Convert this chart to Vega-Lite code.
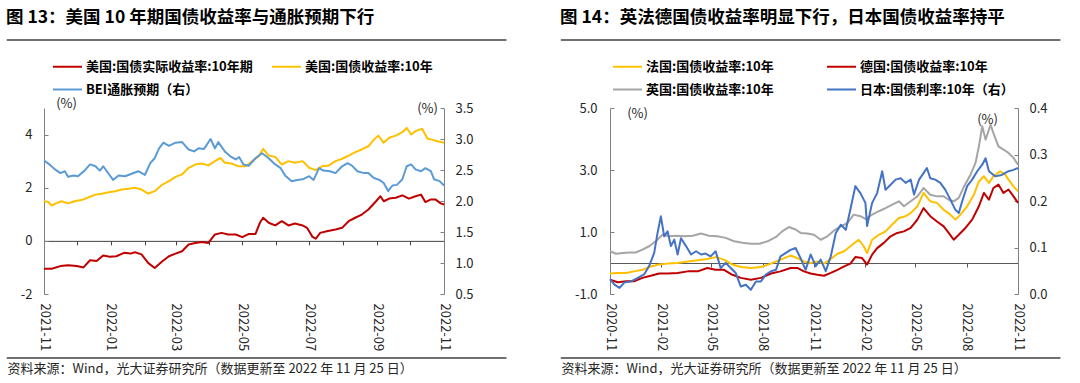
{
"$schema": "https://vega.github.io/schema/vega-lite/v6.json",
"padding": {"left": 5, "top": 8, "right": 5, "bottom": 0},
"background": "white",
"spacing": 52,
"config": {
  "font": "Noto Sans CJK SC",
  "view": {"stroke": null},
  "axis": {"labelFont": "Noto Sans CJK SC", "labelFontSize": 13, "labelColor": "#262626", "titleFont": "Noto Sans CJK SC", "titleFontSize": 13, "titleFontWeight": "normal", "titleColor": "#262626", "grid": false, "domainColor": "#7F7F7F", "tickColor": "#7F7F7F", "labelOverlap": false},
  "legend": {"labelFont": "Noto Sans CJK SC", "labelFontSize": 13, "labelFontWeight": "bold", "labelColor": "#000000", "symbolType": "stroke", "symbolSize": 841, "symbolStrokeWidth": 2.5, "labelOffset": 3, "rowPadding": -3, "labelLimit": 400},
  "title": {"font": "Noto Sans CJK SC", "color": "#000000"},
  "line": {"strokeWidth": 2, "strokeJoin": "round"}
},
"datasets": {
  "usReal": [
    {"d":"2021-11-25","v":-1.05},{"d":"2021-12-02","v":-1.05},{"d":"2021-12-10","v":-0.95},{"d":"2021-12-17","v":-0.92},{"d":"2021-12-25","v":-0.95},{"d":"2021-12-31","v":-1.0},{"d":"2022-01-06","v":-0.73},{"d":"2022-01-12","v":-0.76},{"d":"2022-01-18","v":-0.55},{"d":"2022-01-24","v":-0.6},{"d":"2022-01-30","v":-0.58},{"d":"2022-02-06","v":-0.45},{"d":"2022-02-12","v":-0.48},{"d":"2022-02-16","v":-0.43},{"d":"2022-02-22","v":-0.51},{"d":"2022-02-28","v":-0.83},{"d":"2022-03-06","v":-1.02},{"d":"2022-03-13","v":-0.77},{"d":"2022-03-19","v":-0.58},{"d":"2022-03-25","v":-0.48},{"d":"2022-03-31","v":-0.39},{"d":"2022-04-06","v":-0.14},{"d":"2022-04-12","v":-0.08},{"d":"2022-04-18","v":-0.04},{"d":"2022-04-24","v":-0.08},{"d":"2022-04-30","v":0.24},{"d":"2022-05-06","v":0.30},{"d":"2022-05-12","v":0.24},{"d":"2022-05-19","v":0.24},{"d":"2022-05-25","v":0.14},{"d":"2022-05-31","v":0.26},{"d":"2022-06-06","v":0.26},{"d":"2022-06-10","v":0.68},{"d":"2022-06-13","v":0.87},{"d":"2022-06-18","v":0.68},{"d":"2022-06-24","v":0.58},{"d":"2022-06-30","v":0.74},{"d":"2022-07-06","v":0.58},{"d":"2022-07-12","v":0.65},{"d":"2022-07-19","v":0.58},{"d":"2022-07-23","v":0.49},{"d":"2022-07-28","v":0.15},{"d":"2022-07-31","v":0.08},{"d":"2022-08-04","v":0.30},{"d":"2022-08-10","v":0.36},{"d":"2022-08-18","v":0.43},{"d":"2022-08-24","v":0.49},{"d":"2022-08-30","v":0.74},{"d":"2022-09-05","v":0.87},{"d":"2022-09-11","v":0.99},{"d":"2022-09-17","v":1.18},{"d":"2022-09-24","v":1.49},{"d":"2022-09-28","v":1.68},{"d":"2022-10-01","v":1.49},{"d":"2022-10-06","v":1.59},{"d":"2022-10-12","v":1.62},{"d":"2022-10-18","v":1.71},{"d":"2022-10-24","v":1.59},{"d":"2022-10-30","v":1.68},{"d":"2022-11-04","v":1.74},{"d":"2022-11-08","v":1.46},{"d":"2022-11-13","v":1.56},{"d":"2022-11-17","v":1.56},{"d":"2022-11-22","v":1.41},{"d":"2022-11-25","v":1.37}
  ],
  "usNom": [
    {"d":"2021-11-25","v":1.49},{"d":"2021-11-29","v":1.46},{"d":"2021-12-02","v":1.33},{"d":"2021-12-07","v":1.43},{"d":"2021-12-11","v":1.49},{"d":"2021-12-17","v":1.41},{"d":"2021-12-23","v":1.49},{"d":"2021-12-31","v":1.56},{"d":"2022-01-06","v":1.66},{"d":"2022-01-11","v":1.74},{"d":"2022-01-17","v":1.77},{"d":"2022-01-23","v":1.83},{"d":"2022-01-29","v":1.87},{"d":"2022-02-04","v":1.93},{"d":"2022-02-10","v":1.96},{"d":"2022-02-16","v":2.0},{"d":"2022-02-22","v":1.93},{"d":"2022-02-28","v":1.78},{"d":"2022-03-06","v":1.87},{"d":"2022-03-13","v":2.12},{"d":"2022-03-19","v":2.25},{"d":"2022-03-25","v":2.41},{"d":"2022-03-31","v":2.5},{"d":"2022-04-06","v":2.75},{"d":"2022-04-12","v":2.87},{"d":"2022-04-18","v":2.91},{"d":"2022-04-24","v":2.84},{"d":"2022-04-30","v":3.0},{"d":"2022-05-05","v":3.12},{"d":"2022-05-09","v":2.94},{"d":"2022-05-15","v":2.91},{"d":"2022-05-21","v":2.81},{"d":"2022-05-28","v":2.81},{"d":"2022-06-03","v":3.0},{"d":"2022-06-09","v":3.19},{"d":"2022-06-13","v":3.46},{"d":"2022-06-18","v":3.21},{"d":"2022-06-24","v":3.16},{"d":"2022-06-30","v":2.87},{"d":"2022-07-06","v":3.0},{"d":"2022-07-12","v":2.94},{"d":"2022-07-19","v":3.0},{"d":"2022-07-25","v":2.75},{"d":"2022-07-31","v":2.66},{"d":"2022-08-06","v":2.81},{"d":"2022-08-12","v":2.84},{"d":"2022-08-18","v":3.0},{"d":"2022-08-24","v":3.09},{"d":"2022-08-30","v":3.21},{"d":"2022-09-05","v":3.34},{"d":"2022-09-11","v":3.44},{"d":"2022-09-17","v":3.56},{"d":"2022-09-22","v":3.81},{"d":"2022-09-26","v":3.96},{"d":"2022-10-01","v":3.69},{"d":"2022-10-06","v":3.88},{"d":"2022-10-12","v":3.96},{"d":"2022-10-18","v":4.09},{"d":"2022-10-22","v":4.25},{"d":"2022-10-26","v":4.0},{"d":"2022-10-30","v":4.13},{"d":"2022-11-05","v":4.22},{"d":"2022-11-10","v":3.84},{"d":"2022-11-14","v":3.81},{"d":"2022-11-19","v":3.75},{"d":"2022-11-25","v":3.69}
  ],
  "usBei": [
    {"d":"2021-11-25","v":2.65},{"d":"2021-11-30","v":2.59},{"d":"2021-12-05","v":2.51},{"d":"2021-12-10","v":2.45},{"d":"2021-12-14","v":2.48},{"d":"2021-12-17","v":2.39},{"d":"2021-12-22","v":2.41},{"d":"2021-12-26","v":2.40},{"d":"2022-01-01","v":2.49},{"d":"2022-01-06","v":2.59},{"d":"2022-01-11","v":2.56},{"d":"2022-01-15","v":2.49},{"d":"2022-01-18","v":2.56},{"d":"2022-01-23","v":2.44},{"d":"2022-01-27","v":2.34},{"d":"2022-02-01","v":2.41},{"d":"2022-02-07","v":2.40},{"d":"2022-02-13","v":2.44},{"d":"2022-02-19","v":2.48},{"d":"2022-02-25","v":2.42},{"d":"2022-03-02","v":2.61},{"d":"2022-03-06","v":2.69},{"d":"2022-03-10","v":2.85},{"d":"2022-03-14","v":2.94},{"d":"2022-03-19","v":2.89},{"d":"2022-03-25","v":2.94},{"d":"2022-03-31","v":2.95},{"d":"2022-04-06","v":2.83},{"d":"2022-04-11","v":2.80},{"d":"2022-04-15","v":2.85},{"d":"2022-04-20","v":2.84},{"d":"2022-04-26","v":3.0},{"d":"2022-04-30","v":2.85},{"d":"2022-05-03","v":2.95},{"d":"2022-05-09","v":2.80},{"d":"2022-05-14","v":2.72},{"d":"2022-05-19","v":2.67},{"d":"2022-05-22","v":2.71},{"d":"2022-05-26","v":2.59},{"d":"2022-05-31","v":2.57},{"d":"2022-06-06","v":2.69},{"d":"2022-06-12","v":2.77},{"d":"2022-06-18","v":2.69},{"d":"2022-06-24","v":2.59},{"d":"2022-06-29","v":2.53},{"d":"2022-07-03","v":2.41},{"d":"2022-07-09","v":2.32},{"d":"2022-07-14","v":2.34},{"d":"2022-07-19","v":2.35},{"d":"2022-07-25","v":2.40},{"d":"2022-07-29","v":2.34},{"d":"2022-08-03","v":2.53},{"d":"2022-08-07","v":2.49},{"d":"2022-08-13","v":2.48},{"d":"2022-08-18","v":2.45},{"d":"2022-08-24","v":2.56},{"d":"2022-08-29","v":2.61},{"d":"2022-09-02","v":2.57},{"d":"2022-09-07","v":2.48},{"d":"2022-09-13","v":2.45},{"d":"2022-09-17","v":2.45},{"d":"2022-09-22","v":2.37},{"d":"2022-09-27","v":2.34},{"d":"2022-10-01","v":2.29},{"d":"2022-10-05","v":2.16},{"d":"2022-10-09","v":2.25},{"d":"2022-10-13","v":2.26},{"d":"2022-10-18","v":2.35},{"d":"2022-10-22","v":2.56},{"d":"2022-10-26","v":2.59},{"d":"2022-10-30","v":2.51},{"d":"2022-11-04","v":2.48},{"d":"2022-11-08","v":2.53},{"d":"2022-11-13","v":2.48},{"d":"2022-11-16","v":2.35},{"d":"2022-11-21","v":2.32},{"d":"2022-11-25","v":2.25}
  ],
  "fr": [
    {"d":"2020-11-25","v":-0.34},{"d":"2020-12-09","v":-0.32},{"d":"2020-12-24","v":-0.32},{"d":"2021-01-07","v":-0.27},{"d":"2021-01-22","v":-0.22},{"d":"2021-02-06","v":-0.11},{"d":"2021-02-21","v":-0.05},{"d":"2021-03-08","v":-0.02},{"d":"2021-03-26","v":0.0},{"d":"2021-04-13","v":0.05},{"d":"2021-05-01","v":0.09},{"d":"2021-05-18","v":0.13},{"d":"2021-06-02","v":0.19},{"d":"2021-06-17","v":0.11},{"d":"2021-07-02","v":-0.05},{"d":"2021-07-17","v":-0.13},{"d":"2021-08-04","v":-0.16},{"d":"2021-08-22","v":-0.13},{"d":"2021-09-09","v":-0.02},{"d":"2021-09-26","v":0.11},{"d":"2021-10-14","v":0.24},{"d":"2021-10-26","v":0.16},{"d":"2021-11-07","v":0.05},{"d":"2021-11-19","v":0.0},{"d":"2021-12-01","v":0.05},{"d":"2021-12-13","v":-0.02},{"d":"2021-12-25","v":0.13},{"d":"2022-01-06","v":0.30},{"d":"2022-01-18","v":0.38},{"d":"2022-01-29","v":0.54},{"d":"2022-02-13","v":0.75},{"d":"2022-02-22","v":0.54},{"d":"2022-02-28","v":0.32},{"d":"2022-03-09","v":0.75},{"d":"2022-03-21","v":0.91},{"d":"2022-04-02","v":1.02},{"d":"2022-04-14","v":1.24},{"d":"2022-04-26","v":1.45},{"d":"2022-05-08","v":1.51},{"d":"2022-05-17","v":1.61},{"d":"2022-05-29","v":1.83},{"d":"2022-06-09","v":2.26},{"d":"2022-06-21","v":1.99},{"d":"2022-07-03","v":1.94},{"d":"2022-07-15","v":1.72},{"d":"2022-07-27","v":1.56},{"d":"2022-08-05","v":1.40},{"d":"2022-08-14","v":1.56},{"d":"2022-08-26","v":1.83},{"d":"2022-09-07","v":2.20},{"d":"2022-09-16","v":2.63},{"d":"2022-09-25","v":2.80},{"d":"2022-10-04","v":2.58},{"d":"2022-10-12","v":2.80},{"d":"2022-10-24","v":2.96},{"d":"2022-11-02","v":2.85},{"d":"2022-11-08","v":2.69},{"d":"2022-11-17","v":2.47},{"d":"2022-11-25","v":2.31}
  ],
  "de": [
    {"d":"2020-11-25","v":-0.54},{"d":"2020-12-09","v":-0.62},{"d":"2020-12-24","v":-0.59},{"d":"2021-01-07","v":-0.59},{"d":"2021-01-22","v":-0.48},{"d":"2021-02-06","v":-0.41},{"d":"2021-02-21","v":-0.34},{"d":"2021-03-08","v":-0.34},{"d":"2021-03-26","v":-0.32},{"d":"2021-04-13","v":-0.27},{"d":"2021-05-01","v":-0.27},{"d":"2021-05-18","v":-0.16},{"d":"2021-06-02","v":-0.22},{"d":"2021-06-17","v":-0.22},{"d":"2021-07-02","v":-0.38},{"d":"2021-07-17","v":-0.48},{"d":"2021-08-04","v":-0.54},{"d":"2021-08-22","v":-0.48},{"d":"2021-09-09","v":-0.34},{"d":"2021-09-26","v":-0.27},{"d":"2021-10-14","v":-0.16},{"d":"2021-10-26","v":-0.16},{"d":"2021-11-07","v":-0.27},{"d":"2021-11-19","v":-0.34},{"d":"2021-12-01","v":-0.38},{"d":"2021-12-13","v":-0.41},{"d":"2021-12-25","v":-0.32},{"d":"2022-01-06","v":-0.22},{"d":"2022-01-18","v":-0.11},{"d":"2022-01-29","v":-0.02},{"d":"2022-02-07","v":0.19},{"d":"2022-02-19","v":0.16},{"d":"2022-02-28","v":-0.05},{"d":"2022-03-09","v":0.27},{"d":"2022-03-18","v":0.48},{"d":"2022-03-30","v":0.65},{"d":"2022-04-11","v":0.86},{"d":"2022-04-23","v":0.97},{"d":"2022-05-05","v":1.02},{"d":"2022-05-17","v":1.13},{"d":"2022-05-29","v":1.40},{"d":"2022-06-09","v":1.77},{"d":"2022-06-21","v":1.51},{"d":"2022-07-03","v":1.34},{"d":"2022-07-15","v":1.18},{"d":"2022-07-24","v":0.97},{"d":"2022-08-02","v":0.75},{"d":"2022-08-11","v":0.91},{"d":"2022-08-23","v":1.13},{"d":"2022-09-04","v":1.40},{"d":"2022-09-16","v":1.83},{"d":"2022-09-25","v":2.26},{"d":"2022-10-04","v":2.04},{"d":"2022-10-12","v":2.42},{"d":"2022-10-21","v":2.53},{"d":"2022-10-30","v":2.26},{"d":"2022-11-08","v":2.37},{"d":"2022-11-17","v":2.15},{"d":"2022-11-25","v":1.94}
  ],
  "uk": [
    {"d":"2020-11-25","v":0.38},{"d":"2020-12-06","v":0.30},{"d":"2020-12-18","v":0.32},{"d":"2020-12-30","v":0.34},{"d":"2021-01-10","v":0.34},{"d":"2021-01-22","v":0.43},{"d":"2021-02-03","v":0.54},{"d":"2021-02-15","v":0.70},{"d":"2021-02-27","v":0.91},{"d":"2021-03-11","v":0.86},{"d":"2021-03-23","v":0.88},{"d":"2021-04-07","v":0.86},{"d":"2021-04-22","v":0.88},{"d":"2021-05-07","v":0.95},{"d":"2021-05-21","v":0.88},{"d":"2021-06-05","v":0.86},{"d":"2021-06-20","v":0.81},{"d":"2021-07-05","v":0.70},{"d":"2021-07-20","v":0.65},{"d":"2021-08-04","v":0.62},{"d":"2021-08-19","v":0.62},{"d":"2021-09-03","v":0.70},{"d":"2021-09-18","v":0.84},{"d":"2021-09-29","v":1.02},{"d":"2021-10-11","v":1.16},{"d":"2021-10-23","v":1.08},{"d":"2021-11-01","v":0.97},{"d":"2021-11-13","v":0.95},{"d":"2021-11-25","v":0.91},{"d":"2021-12-07","v":0.75},{"d":"2021-12-19","v":0.86},{"d":"2021-12-31","v":1.05},{"d":"2022-01-12","v":1.18},{"d":"2022-01-24","v":1.29},{"d":"2022-02-04","v":1.56},{"d":"2022-02-16","v":1.51},{"d":"2022-02-25","v":1.42},{"d":"2022-03-09","v":1.56},{"d":"2022-03-21","v":1.67},{"d":"2022-04-02","v":1.77},{"d":"2022-04-14","v":1.88},{"d":"2022-04-26","v":1.99},{"d":"2022-05-05","v":1.83},{"d":"2022-05-17","v":1.99},{"d":"2022-05-29","v":2.15},{"d":"2022-06-09","v":2.42},{"d":"2022-06-21","v":2.20},{"d":"2022-07-03","v":2.15},{"d":"2022-07-15","v":2.15},{"d":"2022-07-24","v":2.04},{"d":"2022-08-02","v":1.99},{"d":"2022-08-11","v":2.10},{"d":"2022-08-20","v":2.45},{"d":"2022-09-01","v":2.85},{"d":"2022-09-10","v":3.23},{"d":"2022-09-16","v":3.76},{"d":"2022-09-22","v":4.41},{"d":"2022-09-28","v":3.98},{"d":"2022-10-07","v":4.46},{"d":"2022-10-12","v":4.19},{"d":"2022-10-21","v":3.76},{"d":"2022-10-30","v":3.66},{"d":"2022-11-08","v":3.55},{"d":"2022-11-17","v":3.39},{"d":"2022-11-25","v":3.17}
  ],
  "jp": [
    {"d":"2020-11-25","v":0.032},{"d":"2020-12-03","v":0.020},{"d":"2020-12-12","v":0.013},{"d":"2020-12-21","v":0.025},{"d":"2021-01-02","v":0.027},{"d":"2021-01-13","v":0.034},{"d":"2021-01-25","v":0.042},{"d":"2021-02-03","v":0.060},{"d":"2021-02-12","v":0.088},{"d":"2021-02-18","v":0.131},{"d":"2021-02-24","v":0.167},{"d":"2021-03-02","v":0.124},{"d":"2021-03-08","v":0.135},{"d":"2021-03-14","v":0.103},{"d":"2021-03-20","v":0.117},{"d":"2021-03-26","v":0.085},{"d":"2021-04-01","v":0.120},{"d":"2021-04-10","v":0.103},{"d":"2021-04-19","v":0.085},{"d":"2021-04-28","v":0.092},{"d":"2021-05-07","v":0.085},{"d":"2021-05-15","v":0.087},{"d":"2021-05-24","v":0.081},{"d":"2021-06-02","v":0.092},{"d":"2021-06-11","v":0.056},{"d":"2021-06-20","v":0.067},{"d":"2021-06-29","v":0.056},{"d":"2021-07-08","v":0.045},{"d":"2021-07-17","v":0.016},{"d":"2021-07-26","v":0.020},{"d":"2021-08-04","v":0.009},{"d":"2021-08-13","v":0.027},{"d":"2021-08-22","v":0.027},{"d":"2021-08-31","v":0.042},{"d":"2021-09-09","v":0.049},{"d":"2021-09-18","v":0.052},{"d":"2021-09-26","v":0.081},{"d":"2021-10-05","v":0.088},{"d":"2021-10-14","v":0.095},{"d":"2021-10-23","v":0.099},{"d":"2021-11-01","v":0.077},{"d":"2021-11-10","v":0.052},{"d":"2021-11-19","v":0.085},{"d":"2021-11-28","v":0.060},{"d":"2021-12-07","v":0.074},{"d":"2021-12-16","v":0.049},{"d":"2021-12-25","v":0.081},{"d":"2022-01-03","v":0.131},{"d":"2022-01-12","v":0.149},{"d":"2022-01-21","v":0.138},{"d":"2022-01-29","v":0.181},{"d":"2022-02-07","v":0.232},{"d":"2022-02-16","v":0.217},{"d":"2022-02-25","v":0.196},{"d":"2022-02-28","v":0.146},{"d":"2022-03-09","v":0.196},{"d":"2022-03-18","v":0.217},{"d":"2022-03-27","v":0.264},{"d":"2022-04-02","v":0.224},{"d":"2022-04-11","v":0.235},{"d":"2022-04-20","v":0.246},{"d":"2022-04-29","v":0.249},{"d":"2022-05-08","v":0.239},{"d":"2022-05-17","v":0.246},{"d":"2022-05-23","v":0.214},{"d":"2022-06-01","v":0.246},{"d":"2022-06-09","v":0.260},{"d":"2022-06-15","v":0.271},{"d":"2022-06-21","v":0.249},{"d":"2022-06-30","v":0.246},{"d":"2022-07-09","v":0.239},{"d":"2022-07-18","v":0.224},{"d":"2022-07-27","v":0.203},{"d":"2022-08-05","v":0.181},{"d":"2022-08-11","v":0.174},{"d":"2022-08-17","v":0.199},{"d":"2022-08-26","v":0.232},{"d":"2022-09-04","v":0.246},{"d":"2022-09-13","v":0.264},{"d":"2022-09-22","v":0.278},{"d":"2022-09-28","v":0.292},{"d":"2022-10-04","v":0.264},{"d":"2022-10-15","v":0.253},{"d":"2022-10-27","v":0.256},{"d":"2022-11-08","v":0.264},{"d":"2022-11-17","v":0.267},{"d":"2022-11-25","v":0.271}
  ]
},
"resolve": {"scale": {"color": "independent"}, "legend": {"color": "independent"}},
"hconcat": [
  {
    "width": 400, "height": 186,
    "title": {"text": "图 13：美国 10 年期国债收益率与通胀预期下行", "anchor": "start", "frame": "bounds", "fontSize": 17.5, "fontWeight": "bold", "offset": 13},
    "layer": [
      {
        "layer": [
          {"data": {"name": "usReal"}, "mark": {"type": "line"},
           "encoding": {
             "x": {"field": "d", "type": "temporal", "scale": {"type": "utc", "domain": [{"year": 2021, "month": 11, "date": 25, "utc": true}, {"year": 2022, "month": 11, "date": 25, "utc": true}]},
                   "axis": {"orient": "bottom", "domain": false, "ticks": false, "labelAngle": 90, "labelPadding": 9, "labelOverlap": false, "labelExpr": "utcFormat(datum.value, '%Y-%m')",
                            "title": "资料来源：Wind，光大证券研究所（数据更新至 2022 年 11 月 25 日）", "titleX": -37, "titleY": 74, "titleAlign": "left", "titleAnchor": "start", "titleBaseline": "middle", "titleAngle": 0,
                            "values": [{"year":2021,"month":11,"date":25,"utc":true},{"year":2021,"month":12,"date":25,"utc":true},{"year":2022,"month":1,"date":25,"utc":true},{"year":2022,"month":2,"date":25,"utc":true},{"year":2022,"month":3,"date":25,"utc":true},{"year":2022,"month":4,"date":25,"utc":true},{"year":2022,"month":5,"date":25,"utc":true},{"year":2022,"month":6,"date":25,"utc":true},{"year":2022,"month":7,"date":25,"utc":true},{"year":2022,"month":8,"date":25,"utc":true},{"year":2022,"month":9,"date":25,"utc":true},{"year":2022,"month":10,"date":25,"utc":true},{"year":2022,"month":11,"date":25,"utc":true}]}},
             "y": {"field": "v", "type": "quantitative", "scale": {"domain": [-2, 5], "nice": false, "zero": false},
                   "axis": {"orient": "left", "values": [-2, -1, 0, 1, 2, 3, 4, 5], "tickSize": -4, "labelPadding": 16, "labelOverlap": false, "labelExpr": "replace(format(datum.value, 'd'), '−', '-')",
                            "title": "(%)", "titleAngle": 0, "titleX": 22, "titleY": -5, "titleAlign": "center", "titleBaseline": "middle"}},
             "color": {"datum": "美国:国债实际收益率:10年期",
                       "scale": {"domain": ["美国:国债实际收益率:10年期", "BEI通胀预期（右）", "美国:国债收益率:10年"], "range": ["#C00000", "#5B9BD5", "#FFC000"]},
                       "legend": {"orient": "none", "legendX": 8, "legendY": -57, "columns": 2, "columnPadding": 18, "title": null}}
           }},
          {"data": {"name": "usNom"}, "mark": {"type": "line"},
           "encoding": {
             "x": {"field": "d", "type": "temporal"},
             "y": {"field": "v", "type": "quantitative"},
             "color": {"datum": "美国:国债收益率:10年"}
           }},
          {"data": {"values": [{}]}, "mark": {"type": "rule", "clip": false, "color": "#404040", "strokeWidth": 1.5},
           "encoding": {
             "x": {"datum": {"year": 2021, "month": 10, "date": 22, "utc": true}, "type": "temporal"},
             "x2": {"datum": {"year": 2023, "month": 1, "date": 21, "utc": true}},
             "y": {"datum": 7.56, "type": "quantitative"}
           }},
          {"data": {"values": [{}]}, "mark": {"type": "rule", "clip": false, "color": "#404040", "strokeWidth": 1.5},
           "encoding": {
             "x": {"datum": {"year": 2021, "month": 10, "date": 22, "utc": true}, "type": "temporal"},
             "x2": {"datum": {"year": 2023, "month": 1, "date": 21, "utc": true}},
             "y": {"datum": -4.41, "type": "quantitative"}
           }}
        ]
      },
      {"data": {"name": "usBei"}, "mark": {"type": "line"},
       "encoding": {
         "x": {"field": "d", "type": "temporal",
               "axis": {"orient": "bottom", "offset": -53.14, "title": null, "labels": false, "domain": true, "domainColor": "#404040", "ticks": true, "tickColor": "#404040", "tickSize": 4,
                        "values": [{"year":2021,"month":11,"date":25,"utc":true},{"year":2021,"month":12,"date":25,"utc":true},{"year":2022,"month":1,"date":25,"utc":true},{"year":2022,"month":2,"date":25,"utc":true},{"year":2022,"month":3,"date":25,"utc":true},{"year":2022,"month":4,"date":25,"utc":true},{"year":2022,"month":5,"date":25,"utc":true},{"year":2022,"month":6,"date":25,"utc":true},{"year":2022,"month":7,"date":25,"utc":true},{"year":2022,"month":8,"date":25,"utc":true},{"year":2022,"month":9,"date":25,"utc":true},{"year":2022,"month":10,"date":25,"utc":true},{"year":2022,"month":11,"date":25,"utc":true}]}},
         "y": {"field": "v", "type": "quantitative", "scale": {"domain": [0.5, 3.5], "nice": false, "zero": false},
               "axis": {"orient": "right", "values": [0.5, 1.0, 1.5, 2.0, 2.5, 3.0, 3.5], "format": ".1f", "tickSize": -4, "labelPadding": 15, "labelOverlap": false,
                        "title": "(%)", "titleAngle": 0, "titleX": -17, "titleY": 0, "titleAlign": "center", "titleBaseline": "middle"}},
         "color": {"datum": "BEI通胀预期（右）"}
       }}
    ],
    "resolve": {"scale": {"y": "independent"}, "axis": {"x": "independent"}}
  },
  {
    "width": 408, "height": 186,
    "title": {"text": "图 14：英法德国债收益率明显下行，日本国债收益率持平", "anchor": "start", "frame": "bounds", "fontSize": 17.5, "fontWeight": "bold", "offset": 13},
    "layer": [
      {
        "layer": [
          {"data": {"name": "fr"}, "mark": {"type": "line"},
           "encoding": {
             "x": {"field": "d", "type": "temporal", "scale": {"type": "utc", "domain": [{"year": 2020, "month": 11, "date": 25, "utc": true}, {"year": 2022, "month": 11, "date": 25, "utc": true}]},
                   "axis": {"orient": "bottom", "domain": false, "ticks": false, "labelAngle": 90, "labelPadding": 9, "labelOverlap": false, "labelExpr": "utcFormat(datum.value, '%Y-%m')",
                            "title": "资料来源：Wind，光大证券研究所（数据更新至 2022 年 11 月 25 日）", "titleX": -49, "titleY": 74, "titleAlign": "left", "titleAnchor": "start", "titleBaseline": "middle", "titleAngle": 0,
                            "values": [{"year":2020,"month":11,"date":25,"utc":true},{"year":2021,"month":2,"date":25,"utc":true},{"year":2021,"month":5,"date":25,"utc":true},{"year":2021,"month":8,"date":25,"utc":true},{"year":2021,"month":11,"date":25,"utc":true},{"year":2022,"month":2,"date":25,"utc":true},{"year":2022,"month":5,"date":25,"utc":true},{"year":2022,"month":8,"date":25,"utc":true},{"year":2022,"month":11,"date":25,"utc":true}]}},
             "y": {"field": "v", "type": "quantitative", "scale": {"domain": [-1, 5], "nice": false, "zero": false},
                   "axis": {"orient": "left", "values": [-1, 0, 1, 2, 3, 4, 5], "tickSize": -4, "labelPadding": 17, "labelOverlap": false, "labelExpr": "replace(format(datum.value, '.1f'), '−', '-')",
                            "title": "(%)", "titleAngle": 0, "titleX": 27, "titleY": 5, "titleAlign": "center", "titleBaseline": "middle"}},
             "color": {"datum": "法国:国债收益率:10年",
                       "scale": {"domain": ["法国:国债收益率:10年", "英国:国债收益率:10年", "德国:国债收益率:10年", "日本:国债利率:10年（右）"], "range": ["#FFC000", "#A5A5A5", "#C00000", "#4472C4"]},
                       "legend": {"orient": "none", "legendX": 2, "legendY": -57, "columns": 2, "columnPadding": 52, "title": null}}
           }},
          {"data": {"name": "de"}, "mark": {"type": "line"},
           "encoding": {"x": {"field": "d", "type": "temporal"}, "y": {"field": "v", "type": "quantitative"}, "color": {"datum": "德国:国债收益率:10年"}}},
          {"data": {"name": "uk"}, "mark": {"type": "line"},
           "encoding": {"x": {"field": "d", "type": "temporal"}, "y": {"field": "v", "type": "quantitative"}, "color": {"datum": "英国:国债收益率:10年"}}},
          {"data": {"values": [{}]}, "mark": {"type": "rule", "clip": false, "color": "#404040", "strokeWidth": 1.5},
           "encoding": {
             "x": {"datum": {"year": 2020, "month": 8, "date": 29, "utc": true}, "type": "temporal"},
             "x2": {"datum": {"year": 2023, "month": 2, "date": 9, "utc": true}},
             "y": {"datum": 7.194, "type": "quantitative"}
           }},
          {"data": {"values": [{}]}, "mark": {"type": "rule", "clip": false, "color": "#404040", "strokeWidth": 1.5},
           "encoding": {
             "x": {"datum": {"year": 2020, "month": 8, "date": 29, "utc": true}, "type": "temporal"},
             "x2": {"datum": {"year": 2023, "month": 2, "date": 9, "utc": true}},
             "y": {"datum": -3.065, "type": "quantitative"}
           }}
        ]
      },
      {"data": {"name": "jp"}, "mark": {"type": "line"},
       "encoding": {
         "x": {"field": "d", "type": "temporal",
               "axis": {"orient": "bottom", "offset": -31, "title": null, "labels": false, "domain": true, "domainColor": "#595959", "ticks": true, "tickColor": "#595959", "tickSize": 4,
                        "values": [{"year":2020,"month":11,"date":25,"utc":true},{"year":2021,"month":2,"date":25,"utc":true},{"year":2021,"month":5,"date":25,"utc":true},{"year":2021,"month":8,"date":25,"utc":true},{"year":2021,"month":11,"date":25,"utc":true},{"year":2022,"month":2,"date":25,"utc":true},{"year":2022,"month":5,"date":25,"utc":true},{"year":2022,"month":8,"date":25,"utc":true},{"year":2022,"month":11,"date":25,"utc":true}]}},
         "y": {"field": "v", "type": "quantitative", "scale": {"domain": [0, 0.4], "nice": false, "zero": false},
               "axis": {"orient": "right", "values": [0, 0.1, 0.2, 0.3, 0.4], "format": ".1f", "tickSize": -4, "labelPadding": 15, "labelOverlap": false,
                        "title": "(%)", "titleAngle": 0, "titleX": -31, "titleY": 11, "titleAlign": "center", "titleBaseline": "middle"}},
         "color": {"datum": "日本:国债利率:10年（右）"}
       }}
    ],
    "resolve": {"scale": {"y": "independent"}, "axis": {"x": "independent"}}
  }
]
}
